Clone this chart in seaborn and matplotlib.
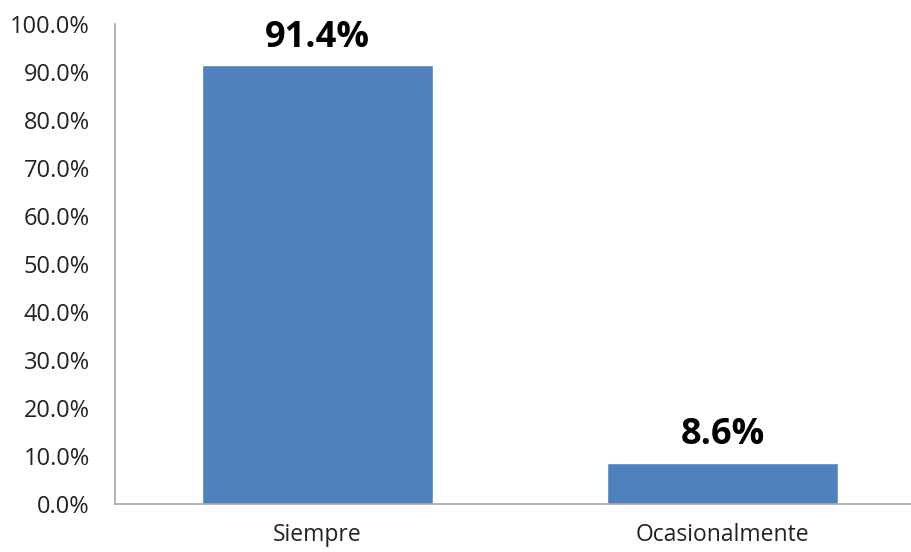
import matplotlib
matplotlib.use("Agg")
import matplotlib.pyplot as plt
import seaborn as sns
import pandas as pd
from matplotlib.ticker import PercentFormatter

categories = ["Siempre", "Ocasionalmente"]
values = [91.4, 8.6]
labels = ["91.4%", "8.6%"]

sns.set_style("white")
plt.rcParams["font.family"] = ["Open Sans", "DejaVu Sans"]

df = pd.DataFrame({"cat": categories, "val": values})

fig = plt.figure(figsize=(9.11, 5.52), dpi=100)
ax = fig.add_axes([115 / 911, 1 - 504 / 552, 1 - 115 / 911, (504 - 24) / 552])

sns.barplot(data=df, x="cat", y="val", color="#4F81BD", saturation=1, width=0.57, ax=ax)

for i, (v, lab) in enumerate(zip(values, labels)):
    ax.text(i, v + 2, lab, ha="center", va="bottom", fontsize=26, fontweight="bold", color="black")

ax.set_ylim(0, 100)
ax.set_xlim(-0.5, 1.465)
ax.set_yticks(range(0, 101, 10))
ax.yaxis.set_major_formatter(PercentFormatter(decimals=1))
ax.tick_params(axis="y", length=0, labelsize=17, colors="#222222", pad=18)
ax.tick_params(axis="x", length=0, labelsize=16.5, colors="#222222", pad=14)
ax.set_xlabel("")
ax.set_ylabel("")

for s in ["top", "right"]:
    ax.spines[s].set_visible(False)
for s in ["left", "bottom"]:
    ax.spines[s].set_color("#A6A6A6")
    ax.spines[s].set_linewidth(1.2)

fig.savefig("out.png", dpi=100)
